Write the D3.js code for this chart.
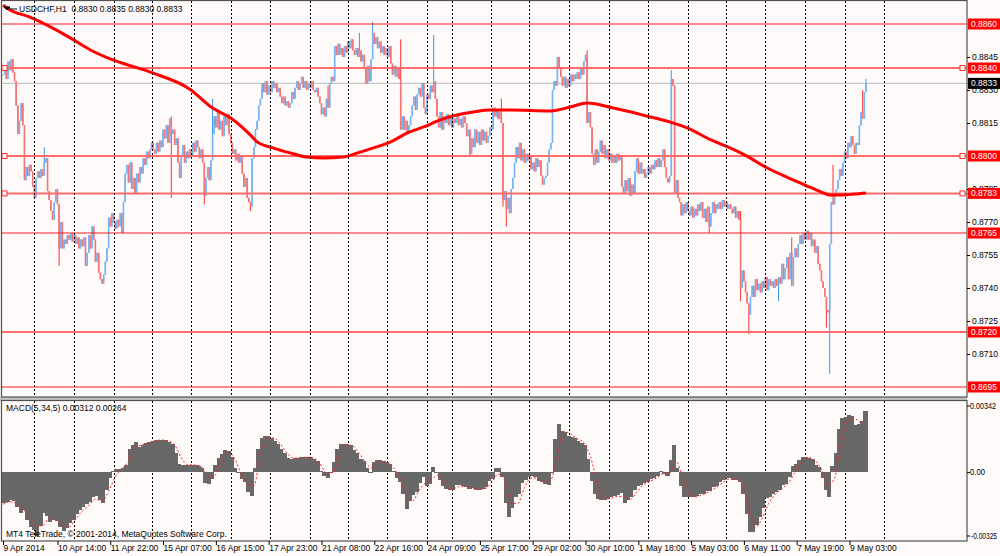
<!DOCTYPE html>
<html>
<head>
<meta charset="utf-8">
<title>USDCHF,H1</title>
<script src="https://cdn.jsdelivr.net/npm/d3@7"></script>
<style>
  body { margin: 0; background: #fffafa; }
  svg { display: block; font-family: "Liberation Sans", Arial, sans-serif; font-size: 8.5px; }
</style>
</head>
<body>
<div id="chart"></div>
<script>
///////////////////////////////////////////////////////////////////////////
//////////////////////// data ////////////////////////
///////////////////////////////////////////////////////////////////////////

//trading sessions: day, first and last hourly bar
var sessionDays  = ["2014-04-09","2014-04-10","2014-04-11","2014-04-14","2014-04-15","2014-04-16","2014-04-17","2014-04-18",
                    "2014-04-21","2014-04-22","2014-04-23","2014-04-24","2014-04-25","2014-04-28","2014-04-29","2014-04-30",
                    "2014-05-01","2014-05-02","2014-05-05","2014-05-06","2014-05-07","2014-05-08","2014-05-09"];
var sessionFirst = [5,0,0,1,0,0,0,0,1,0,0,9,0,1,0,0,0,0,1,0,0,0,0];
var sessionLast  = [23,23,23,23,23,23,23,23,23,23,23,23,23,23,23,23,23,23,23,23,23,23,13];

//hourly closes, in pips (0.8837 -> 8837); open is the previous close
var closePips = [
  8837,8841,8835,8843,8839,8844,8838,8834,8823,8810, 8816,8824,8814,8789,8795,8791,8796,8793,8786,8781,
  8790,8793,8790,8794,8791,8797,8799,8784,8780,8775, 8771,8779,8785,8778,8758,8770,8758,8762,8760,8764,
  8762,8765,8761,8764,8760,8763,8758,8762,8759,8763, 8750,8756,8764,8758,8768,8762,8752,8756,8747,8744,
  8742,8746,8752,8758,8772,8768,8774,8770,8767,8771, 8768,8774,8765,8779,8792,8796,8788,8797,8785,8790,
  8783,8792,8788,8795,8792,8799,8796,8802,8799,8803, 8806,8803,8801,8806,8802,8807,8804,8812,8808,8814,
  8806,8817,8810,8812,8805,8808,8797,8790,8800,8805, 8797,8802,8799,8803,8800,8806,8802,8807,8804,8799,
  8803,8797,8782,8790,8795,8789,8798,8810,8818,8813, 8820,8812,8816,8809,8818,8814,8819,8810,8806,8801,
  8803,8798,8801,8797,8800,8792,8786,8790,8781,8779, 8777,8799,8804,8812,8816,8823,8826,8833,8829,8834,
  8828,8832,8829,8834,8831,8833,8829,8831,8827,8824, 8827,8823,8825,8822,8824,8829,8826,8831,8834,8830,
  8833,8836,8831,8834,8830,8833,8831,8834,8830,8829, 8831,8827,8824,8819,8822,8818,8826,8822,8833,8836,
  8834,8850,8846,8851,8846,8849,8845,8850,8847,8852, 8849,8853,8848,8846,8849,8845,8848,8843,8846,8840,
  8833,8841,8834,8844,8856,8851,8854,8849,8852,8847, 8850,8846,8849,8845,8850,8842,8837,8841,8836,8840,
  8835,8812,8818,8812,8816,8811,8814,8818,8823,8827, 8821,8828,8831,8827,8833,8822,8819,8828,8826,8832,
  8829,8834,8826,8818,8813,8820,8812,8818,8815,8819, 8814,8818,8813,8817,8815,8819,8814,8817,8813,8818,
  8815,8809,8812,8801,8808,8804,8812,8806,8811,8805, 8812,8807,8811,8806,8809,8813,8812,8822,8818,8821,
  8817,8820,8815,8780,8784,8776,8781,8774,8785,8790, 8797,8804,8799,8806,8798,8803,8797,8801,8798,8800,
  8794,8797,8793,8799,8795,8798,8791,8787,8790,8791, 8797,8803,8806,8830,8834,8832,8845,8840,8836,8832,
  8836,8831,8835,8832,8837,8834,8837,8835,8838,8835, 8840,8837,8843,8846,8815,8820,8813,8801,8796,8803,
  8797,8802,8807,8801,8805,8799,8803,8798,8801,8797, 8800,8797,8801,8798,8800,8786,8783,8789,8784,8790,
  8782,8787,8783,8793,8799,8792,8797,8792,8794,8790, 8792,8795,8792,8796,8794,8798,8795,8799,8795,8798,
  8803,8795,8790,8788,8791,8835,8832,8783,8789,8781, 8779,8773,8778,8774,8779,8775,8773,8777,8772,8776,
  8773,8778,8775,8779,8772,8776,8770,8777,8768,8774, 8779,8774,8778,8776,8779,8776,8780,8777,8779,8776,
  8778,8776,8774,8777,8772,8775,8771,8740,8748,8743, 8738,8733,8728,8736,8741,8736,8744,8739,8742,8738,
  8743,8740,8745,8739,8744,8741,8743,8740,8744,8741, 8745,8742,8751,8744,8749,8754,8744,8756,8741,8754,
  8758,8754,8760,8764,8760,8765,8762,8766,8762,8765, 8759,8762,8756,8759,8751,8748,8743,8740,8736,8730,
  8729,8760,8779,8778,8782,8785,8789,8794,8791,8797, 8802,8799,8806,8804,8809,8805,8801,8806,8805,8814,
  8820,8817,8829,8833
];

//bars whose wicks reach past the body (pips, null = none)
var spikeBars  = [25, 34, 102, 122, 127, 150, 197, 216, 224, 241, 261, 283, 302, 303, 305, 354, 405, 428, 447, 452, 470, 478, 499, 501, 503, 521, 523];
var spikeHighs = [8804, null, 8818, null, 8826, null, 8832, 8856, 8861, 8853, 8855, null, 8826, null, null, 8848, 8839, null, 8775, null, null, 8763, null, null, 8796, 8830, 8835];
var spikeLows  = [null, 8750, 8781, 8778, null, 8775, null, null, null, null, null, 8800, null, 8777, 8768, null, null, 8765, 8734, 8719, 8734, null, 8722, 8701, null, null, 8830];

//moving average, read at these bars (pips)
var maBars   = [0, 4, 16, 41, 53, 65, 89, 113, 127, 138, 150, 154, 164, 174, 184, 194, 206, 215, 224, 235, 245, 255,
                265, 275, 285, 295, 307, 332, 344, 354, 370, 390, 404, 415, 429, 441, 452, 462, 472, 486, 496, 501, 509, 516, 523];
var maValues = [8868.5, 8866.5, 8863.2, 8853.6, 8848.2, 8844.1, 8838.2, 8830.5, 8821.8, 8817.3, 8809.5, 8806.4, 8803.6,
                8801.4, 8799.5, 8799.1, 8799.5, 8801.4, 8803.6, 8806.4, 8810.5, 8813.2, 8816.4, 8818.6, 8820.0, 8820.9,
                8820.9, 8820.5, 8822.3, 8824.1, 8821.8, 8818.2, 8815.5, 8812.7, 8807.3, 8803.6, 8799.5, 8795.0, 8791.4,
                8786.8, 8783.6, 8782.3, 8782.3, 8782.7, 8783.2];

//MACD(5,34,5) main, one value per 2 bars, in thousandths
var macdStep = 2;
var macdMain = [
  -1.56,-1.52,-1.42,-1.48,-1.80,-2.10,-1.95,-2.45,-2.80,-2.95, -3.25,-2.75,-2.10,-2.25,-2.55,-2.45,-2.50,-2.80,-3.00,-2.85,
  -2.60,-2.45,-2.15,-1.95,-1.80,-1.65,-1.55,-1.25,-1.20,-1.45, -1.60,-0.90,-0.30,0.05,0.15,0.15,0.20,0.35,1.20,1.40,
  1.55,1.30,1.40,1.50,1.55,1.62,1.65,1.66,1.65,1.63, 1.55,1.45,1.00,0.40,0.37,0.37,0.38,0.36,0.37,0.33,
  0.20,-0.55,-0.60,-0.35,0.35,0.75,0.95,1.15,1.10,0.80, 0.20,-0.05,-0.35,-0.50,-1.00,-1.20,0.20,1.20,1.75,1.88,
  1.85,1.75,1.60,1.45,1.20,1.00,0.75,0.65,0.72,0.75, 0.76,0.78,0.76,0.75,0.68,0.55,0.05,-0.20,-0.30,0.00,
  0.50,1.20,1.42,1.47,1.45,1.40,1.15,1.00,0.70,0.55, 0.20,-0.05,0.50,0.60,0.62,0.58,0.50,0.40,0.05,-0.30,
  -0.50,-1.10,-1.90,-1.50,-1.15,-1.00,-0.55,-0.25,-0.72,-0.60, 0.25,-0.05,-0.40,-0.70,-0.85,-0.90,-0.90,-0.68,-0.65,-0.70,
  -0.75,-0.85,-0.80,-0.90,-0.90,-0.88,-0.75,-0.45,-0.35,0.20, 0.22,-0.25,-1.60,-2.30,-1.85,-1.30,-1.10,-0.55,-0.42,-0.25,
  -0.22,-0.25,-0.45,-0.50,-0.62,-0.65,0.00,1.70,2.45,2.10, 2.05,1.85,1.80,1.75,1.60,1.50,1.38,0.70,-0.47,-1.10,
  -1.40,-1.45,-1.42,-1.38,-1.30,-1.22,-1.18,-1.05,-1.56,-1.45, -1.30,-0.90,-0.72,-0.65,-0.58,-0.50,-0.35,-0.30,-0.22,0.05,
  -0.10,-0.20,0.60,1.37,0.20,-0.72,-1.30,-1.28,-1.30,-1.25, -1.22,-1.14,-1.12,-0.98,-0.95,-0.75,-0.70,-0.50,-0.40,-0.32,
  -0.32,-0.38,-0.42,-0.48,-1.14,-2.15,-3.07,-3.05,-2.73,-2.30, -1.85,-1.35,-1.30,-1.10,-1.00,-0.92,-0.65,-0.60,-0.25,0.30,
  0.40,0.62,0.78,0.80,0.75,0.70,0.35,0.25,-0.30,-0.90, -1.30,0.30,1.00,2.20,2.80,2.85,2.92,2.90,2.40,2.45,
  2.65,3.12
];

//MACD signal, one value per 4 bars (last one on the last bar), in thousandths
var signalStep = 4;
var macdSignal = [
  -1.65,-1.52,-1.60,-1.90,-2.25,-2.75,-2.75,-2.35,-2.45,-2.75, -2.80,-2.40,-2.00,-1.70,-1.40,-1.45,-1.00,-0.25,0.15,0.55,
  1.25,1.40,1.50,1.60,1.65,1.60,1.40,0.75,0.38,0.37, 0.30,-0.25,-0.20,0.60,1.05,0.75,0.00,-0.60,-0.70,0.90,
  1.75,1.75,1.45,1.00,0.72,0.74,0.77,0.73,0.45,-0.05, 0.00,0.95,1.40,1.35,0.95,0.45,0.20,0.55,0.55,0.30,
  -0.25,-1.10,-1.50,-0.95,-0.55,-0.35,-0.15,-0.65,-0.88,-0.75, -0.72,-0.82,-0.88,-0.85,-0.55,-0.10,-0.40,-1.60,-1.60,-0.80,
  -0.30,-0.30,-0.50,-0.40,0.90,2.10,1.95,1.72,1.50,0.80, -0.50,-1.35,-1.35,-1.25,-1.25,-1.40,-1.05,-0.65,-0.48,-0.30,
  -0.08,-0.05,0.55,-0.30,-1.05,-1.27,-1.15,-1.00,-0.80,-0.55, -0.36,-0.38,-0.60,-1.80,-2.80,-2.40,-1.60,-1.15,-0.85,-0.55,
  0.00,0.50,0.75,0.60,0.15,-0.65,-0.30,1.50,2.65,2.75, 2.55,2.64
];

//horizontal levels drawn on the chart
var levelPrices = [0.8860, 0.8840, 0.8800, 0.8783, 0.8765, 0.8720, 0.8695];
var levelThick  = [false, true, true, true, false, true, false];
var levelMarked = [false, true, true, true, false, false, false];

var priceTicks = [0.8845, 0.8830, 0.8815, 0.8785, 0.8770, 0.8755, 0.8740, 0.8725, 0.8710];
var macdTicks  = [0.00342, 0, -0.00325];
var macdTickLabels = ["0.00342", "0.00", "-0.00325"];
var bidPrice = 0.8833;

var titleText = "USDCHF,H1  0.8830 0.8835 0.8830 0.8833";
var macdText = "MACD(5,34,5) 0.00312 0.00264";
var footText = "MT4 TeleTrade, \u00a9 2001-2014, MetaQuotes Software Corp.";

///////////////////////////////////////////////////////////////////////////
//////////////////////////////// layout ///////////////////////////////////
///////////////////////////////////////////////////////////////////////////

var width = 1000, height = 556;
var plotRight = 967;
var mainTop = 1, mainBottom = 397;
var subTop = 401, subBottom = 541;

var n = closePips.length;

//bar times from the sessions
var parseDay = d3.timeParse("%Y-%m-%d");
var barTime = [], dayStart = [];
sessionDays.forEach(function (s, k) {
  var day = parseDay(s);
  dayStart.push(barTime.length);
  for (var h = sessionFirst[k]; h <= sessionLast[k]; h++) {
    barTime.push(d3.timeHour.offset(day, h));
  }
});
dayStart.shift();          //first session starts on the left edge
dayStart.push(n + 10);     //Monday 12 May 01:00, in the empty space on the right

var x = d3.scaleLinear().domain([0, n - 1]).range([3, 866]);
var y = d3.scaleLinear().domain([0.8860, 0.8720]).range([24, 332]);
var ym = d3.scaleLinear().domain([-0.00325, 0.00342]).range([535.5, 405.5]);

var bars = closePips.map(function (p, i) {
  var c = p / 10000;
  var o = i ? closePips[i - 1] / 10000 : c;
  return {i: i, o: o, c: c, h: Math.max(o, c), l: Math.min(o, c)};
});
spikeBars.forEach(function (b, k) {
  if (spikeHighs[k] != null) bars[b].h = Math.max(bars[b].h, spikeHighs[k] / 10000);
  if (spikeLows[k] != null) bars[b].l = Math.min(bars[b].l, spikeLows[k] / 10000);
});

var svg = d3.select("#chart").append("svg")
    .attr("width", width)
    .attr("height", height);

svg.append("rect").attr("width", width).attr("height", height).attr("fill", "#fffafa");

var defs = svg.append("defs");
defs.append("clipPath").attr("id", "clipMain").append("rect")
    .attr("x", 2).attr("y", mainTop).attr("width", plotRight - 2).attr("height", mainBottom - mainTop);
defs.append("clipPath").attr("id", "clipSub").append("rect")
    .attr("x", 2).attr("y", subTop).attr("width", plotRight - 2).attr("height", subBottom - subTop);

///////////////////////////////////////////////////////////////////////////
////////////////////////////// main window ////////////////////////////////
///////////////////////////////////////////////////////////////////////////

var main = svg.append("g").attr("clip-path", "url(#clipMain)");

//dotted day separators, both windows
[[mainTop, mainBottom], [subTop, subBottom]].forEach(function (r) {
  svg.append("g").selectAll("line")
    .data(dayStart)
    .enter().append("line")
    .attr("x1", function (b) { return Math.round(x(b)) + 0.5; })
    .attr("x2", function (b) { return Math.round(x(b)) + 0.5; })
    .attr("y1", r[0]).attr("y2", r[1])
    .attr("stroke", "#000")
    .attr("stroke-width", 1)
    .attr("stroke-dasharray", "2,2")
    .attr("shape-rendering", "crispEdges");
});

//bid line
main.append("line")
    .attr("x1", 2).attr("x2", plotRight)
    .attr("y1", y(bidPrice)).attr("y2", y(bidPrice))
    .attr("stroke", "#c8c8c8").attr("stroke-width", 1.2);

//candles
main.append("g").selectAll("line")
    .data(bars)
    .enter().append("line")
    .attr("x1", function (d) { return x(d.i); })
    .attr("x2", function (d) { return x(d.i); })
    .attr("y1", function (d) { return y(d.h); })
    .attr("y2", function (d) { return y(d.l); })
    .attr("stroke", function (d) { return d.c >= d.o ? "#3d97f2" : "#ff3030"; })
    .attr("stroke-width", 1);

main.append("g").selectAll("rect")
    .data(bars)
    .enter().append("rect")
    .attr("x", function (d) { return x(d.i) - 0.8; })
    .attr("width", 1.6)
    .attr("y", function (d) { return y(Math.max(d.o, d.c)); })
    .attr("height", function (d) { return Math.max(1, y(Math.min(d.o, d.c)) - y(Math.max(d.o, d.c))); })
    .attr("fill", function (d) { return d.c >= d.o ? "#74b6f4" : "#f57474"; });

//horizontal levels
levelPrices.forEach(function (p, k) {
  main.append("line")
    .attr("x1", 2).attr("x2", plotRight)
    .attr("y1", y(p)).attr("y2", y(p))
    .attr("stroke", levelThick[k] ? "#ff6a6a" : "#ff1a1a")
    .attr("stroke-width", levelThick[k] ? 2 : 1.2);
  if (levelMarked[k]) {
    [4.5, plotRight - 4.5].forEach(function (cx) {
      main.append("rect")
        .attr("x", cx - 2.5).attr("y", y(p) - 2.5)
        .attr("width", 5).attr("height", 5)
        .attr("fill", "#fffafa").attr("stroke", "#ff3030").attr("stroke-width", 1);
    });
  }
});

//moving average
var maLine = d3.line()
    .x(function (d, k) { return x(maBars[k]); })
    .y(function (d) { return y(d / 10000); })
    .curve(d3.curveMonotoneX);

main.append("path")
    .attr("d", maLine(maValues))
    .attr("fill", "none")
    .attr("stroke", "#ff0000")
    .attr("stroke-width", 3);

///////////////////////////////////////////////////////////////////////////
////////////////////////////// MACD window ////////////////////////////////
///////////////////////////////////////////////////////////////////////////

var sub = svg.append("g").attr("clip-path", "url(#clipSub)");

//histogram columns, each covering its two bars, slightly overlapped so no seams show
sub.append("g").attr("shape-rendering", "crispEdges").selectAll("rect")
    .data(macdMain)
    .enter().append("rect")
    .attr("x", function (v, k) { return x(k * macdStep) - 0.85; })
    .attr("width", function (v, k) { return x(Math.min(k * macdStep + macdStep - 1, n - 1)) - x(k * macdStep) + 2.4; })
    .attr("y", function (v) { return Math.min(ym(v / 1000), ym(0)); })
    .attr("height", function (v) { return Math.max(1, Math.abs(ym(v / 1000) - ym(0))); })
    .attr("fill", "#686868");

var sigLine = d3.line()
    .x(function (d, k) { return x(Math.min(k * signalStep, n - 1)); })
    .y(function (d) { return ym(d / 1000); })
    .curve(d3.curveMonotoneX);

sub.append("path")
    .attr("d", sigLine(macdSignal))
    .attr("fill", "none")
    .attr("stroke", "#ff2020")
    .attr("stroke-width", 1)
    .attr("stroke-dasharray", "2,2");

///////////////////////////////////////////////////////////////////////////
///////////////////////////// frames and axes /////////////////////////////
///////////////////////////////////////////////////////////////////////////

svg.append("rect")
    .attr("x", 0).attr("y", mainBottom).attr("width", plotRight).attr("height", subTop - mainBottom)
    .attr("fill", "#c4c4c4");

svg.append("rect")
    .attr("x", 1.5).attr("y", 0.5).attr("width", plotRight - 1.5).attr("height", mainBottom - 0.5)
    .attr("fill", "none").attr("stroke", "#505050").attr("stroke-width", 1.2);
svg.append("rect")
    .attr("x", 1.5).attr("y", subTop - 0.5).attr("width", plotRight - 1.5).attr("height", subBottom - subTop + 0.5)
    .attr("fill", "none").attr("stroke", "#505050").attr("stroke-width", 1.2);

function plainAxis(g) {
  g.attr("font-size", null).attr("font-family", null);
  g.select(".domain").remove();
  g.selectAll(".tick line").attr("stroke", "#000");
  g.selectAll(".tick text").attr("fill", "#000");
}

svg.append("g")
    .attr("transform", "translate(" + plotRight + ",0)")
    .call(d3.axisRight(y).tickValues(priceTicks).tickFormat(d3.format(".4f")).tickSize(3).tickPadding(2))
    .call(plainAxis);

//MACD scale labels are narrow in the original: squeeze them, right-aligned inside the margin
var macdLabelWidth = [26, 15, 26];
svg.append("g")
    .attr("transform", "translate(" + plotRight + ",0)")
    .call(d3.axisRight(ym).tickValues(macdTicks)
      .tickFormat(function (v, k) { return macdTickLabels[k]; })
      .tickSize(3).tickPadding(0))
    .call(plainAxis)
    .selectAll(".tick text")
    .attr("text-anchor", function (v, k) { return k === 2 ? "end" : "start"; })
    .attr("x", function (v, k) { return k === 2 ? 3 + macdLabelWidth[k] + 1 : 3; })
    .attr("textLength", function (v, k) { return macdLabelWidth[k]; })
    .attr("lengthAdjust", "spacingAndGlyphs");

//time axis: first bar with the year, then every 32 bars
var fmtFirst = d3.timeFormat("%-d %b %Y"), fmtTime = d3.timeFormat("%-d %b %H:%M");
var timeTicks = [0].concat(d3.range(33, n, 32));

svg.append("g")
    .attr("transform", "translate(0," + subBottom + ")")
    .call(d3.axisBottom(x).tickValues(timeTicks)
      .tickFormat(function (b) { return b === 0 ? fmtFirst(barTime[b]) : fmtTime(barTime[b]); })
      .tickSize(4).tickPadding(0))
    .call(plainAxis)
    .selectAll(".tick text").attr("text-anchor", "start").attr("x", 0);

//price boxes on the right axis
function priceBox(p, fill) {
  var g = svg.append("g").attr("transform", "translate(" + (plotRight + 1) + "," + y(p) + ")");
  g.append("rect").attr("x", 0).attr("y", -5.5).attr("width", 32).attr("height", 11).attr("fill", fill);
  g.append("text").attr("x", 3).attr("dy", "0.35em").attr("fill", "#fff").text(d3.format(".4f")(p));
}
levelPrices.forEach(function (p) { priceBox(p, "#ff0000"); });
priceBox(bidPrice, "#000");

///////////////////////////////////////////////////////////////////////////
/////////////////////////////////// texts /////////////////////////////////
///////////////////////////////////////////////////////////////////////////

svg.append("path")
    .attr("d", "M4,7 L10,7 L7,10 Z M10,9 L17,9")
    .attr("fill", "#000").attr("stroke", "#000").attr("stroke-width", 1);

svg.append("text").attr("x", 19).attr("y", 12).attr("fill", "#000")
    .attr("xml:space", "preserve").text(titleText);
svg.append("text").attr("x", 6).attr("y", 411).attr("fill", "#000").text(macdText);
svg.append("text").attr("x", 6).attr("y", 537).attr("fill", "#000").text(footText);
</script>
</body>
</html>
